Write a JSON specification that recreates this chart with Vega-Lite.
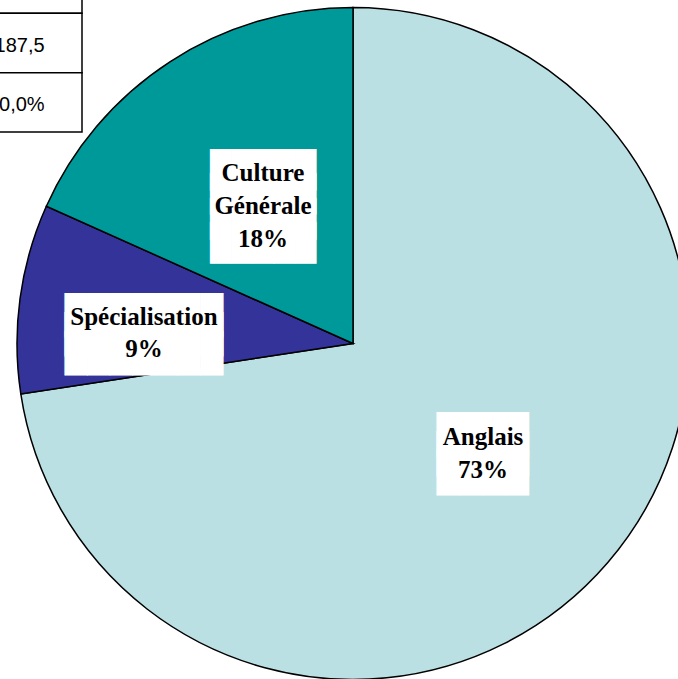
{
  "$schema": "https://vega.github.io/schema/vega-lite/v6.json",
  "autosize": "none",
  "width": 650,
  "height": 671,
  "padding": {"left": 28, "top": 8, "right": 0, "bottom": 0},
  "background": "white",
  "config": {"view": {"stroke": null}},
  "datasets": {
    "parts": [
      {"categorie": "Anglais", "valeur": 72.6, "ordre": 1},
      {"categorie": "Spécialisation", "valeur": 9.1, "ordre": 2},
      {"categorie": "Culture Générale", "valeur": 18.3, "ordre": 3}
    ],
    "tableau": [
      {"ligne": 0, "colonne": "A", "texte": ""},
      {"ligne": 1, "colonne": "A", "texte": "187,5"},
      {"ligne": 2, "colonne": "A", "texte": "0,0%"}
    ]
  },
  "layer": [
    {
      "data": {"name": "tableau"},
      "mark": {"type": "rect", "fill": "white", "stroke": "black", "strokeWidth": 1.5},
      "encoding": {
        "x": {"field": "colonne", "type": "nominal", "scale": {"type": "band", "range": [-66, 54], "paddingInner": 0, "paddingOuter": 0}, "axis": null},
        "y": {"field": "ligne", "type": "ordinal", "scale": {"type": "band", "range": [-54, 124], "paddingInner": 0, "paddingOuter": 0}, "axis": null}
      }
    },
    {
      "data": {"name": "tableau"},
      "mark": {"type": "text", "font": "Liberation Sans", "fontSize": 20, "fill": "black", "align": "right", "baseline": "middle", "dx": 22.6, "dy": 2.5},
      "encoding": {
        "x": {"field": "colonne", "type": "nominal", "scale": {"type": "band", "range": [-66, 54], "paddingInner": 0, "paddingOuter": 0}, "axis": null},
        "y": {"field": "ligne", "type": "ordinal", "scale": {"type": "band", "range": [-54, 124], "paddingInner": 0, "paddingOuter": 0}, "axis": null},
        "text": {"field": "texte", "type": "nominal"}
      }
    },
    {
      "data": {"name": "parts"},
      "mark": {"type": "arc", "outerRadius": 336, "stroke": "black", "strokeWidth": 1.5},
      "encoding": {
        "theta": {"field": "valeur", "type": "quantitative", "stack": true, "scale": {"domain": [0, 100]}},
        "order": {"field": "ordre", "type": "quantitative"},
        "color": {"field": "categorie", "type": "nominal", "scale": {"domain": ["Anglais", "Spécialisation", "Culture Générale"], "range": ["#BBE0E3", "#333399", "#009999"]}, "legend": null}
      }
    },
    {
      "data": {"name": "parts"},
      "transform": [
        {"stack": "valeur", "groupby": [], "sort": [{"field": "ordre", "order": "ascending"}], "as": ["debut", "fin"]},
        {"calculate": "(datum.debut + datum.fin) / 2", "as": "milieu"},
        {"filter": "datum.categorie === 'Anglais'"}
      ],
      "mark": {"type": "text", "font": "DejaVu Sans Mono", "fontSize": 38.2, "lineHeight": 19.3, "align": "center", "baseline": "middle", "fill": "white", "radius": 171.5, "dy": -18.6},
      "encoding": {
        "theta": {"field": "milieu", "type": "quantitative", "scale": {"domain": [0, 100]}},
        "text": {"value": ["████", "████", "████"]}
      }
    },
    {
      "data": {"name": "parts"},
      "transform": [
        {"stack": "valeur", "groupby": [], "sort": [{"field": "ordre", "order": "ascending"}], "as": ["debut", "fin"]},
        {"calculate": "(datum.debut + datum.fin) / 2", "as": "milieu"},
        {"filter": "datum.categorie === 'Spécialisation'"}
      ],
      "mark": {"type": "text", "font": "DejaVu Sans Mono", "fontSize": 37.6, "lineHeight": 19.15, "align": "center", "baseline": "middle", "fill": "white", "radius": 211, "dy": 2},
      "encoding": {
        "theta": {"field": "milieu", "type": "quantitative", "scale": {"domain": [0, 100]}},
        "text": {"value": ["███████", "███████", "███████"]}
      }
    },
    {
      "data": {"name": "parts"},
      "transform": [
        {"stack": "valeur", "groupby": [], "sort": [{"field": "ordre", "order": "ascending"}], "as": ["debut", "fin"]},
        {"calculate": "(datum.debut + datum.fin) / 2", "as": "milieu"},
        {"filter": "datum.categorie === 'Culture Générale'"}
      ],
      "mark": {"type": "text", "font": "DejaVu Sans Mono", "fontSize": 35.2, "lineHeight": 24.6, "align": "center", "baseline": "middle", "fill": "white", "radius": 165.5, "dy": -34},
      "encoding": {
        "theta": {"field": "milieu", "type": "quantitative", "scale": {"domain": [0, 100]}},
        "text": {"value": ["█████", "█████", "█████", "█████"]}
      }
    },
    {
      "data": {"name": "parts"},
      "transform": [
        {"joinaggregate": [{"op": "sum", "field": "valeur", "as": "total"}]},
        {"stack": "valeur", "groupby": [], "sort": [{"field": "ordre", "order": "ascending"}], "as": ["debut", "fin"]},
        {"calculate": "(datum.debut + datum.fin) / 2", "as": "milieu"},
        {"calculate": "split(datum.categorie + ' ' + format(datum.valeur / datum.total, '.0%'), ' ')", "as": "etiquette"},
        {"filter": "datum.categorie === 'Anglais'"}
      ],
      "mark": {"type": "text", "font": "Liberation Serif", "fontWeight": "bold", "fontSize": 25, "lineHeight": 33, "align": "center", "baseline": "middle", "fill": "black", "radius": 171.5, "dy": -18.6},
      "encoding": {
        "theta": {"field": "milieu", "type": "quantitative", "scale": {"domain": [0, 100]}},
        "text": {"field": "etiquette", "type": "nominal"}
      }
    },
    {
      "data": {"name": "parts"},
      "transform": [
        {"joinaggregate": [{"op": "sum", "field": "valeur", "as": "total"}]},
        {"stack": "valeur", "groupby": [], "sort": [{"field": "ordre", "order": "ascending"}], "as": ["debut", "fin"]},
        {"calculate": "(datum.debut + datum.fin) / 2", "as": "milieu"},
        {"calculate": "split(datum.categorie + ' ' + format(datum.valeur / datum.total, '.0%'), ' ')", "as": "etiquette"},
        {"filter": "datum.categorie === 'Spécialisation'"}
      ],
      "mark": {"type": "text", "font": "Liberation Serif", "fontWeight": "bold", "fontSize": 25, "lineHeight": 32, "align": "center", "baseline": "middle", "fill": "black", "radius": 211, "dy": 1.6},
      "encoding": {
        "theta": {"field": "milieu", "type": "quantitative", "scale": {"domain": [0, 100]}},
        "text": {"field": "etiquette", "type": "nominal"}
      }
    },
    {
      "data": {"name": "parts"},
      "transform": [
        {"joinaggregate": [{"op": "sum", "field": "valeur", "as": "total"}]},
        {"stack": "valeur", "groupby": [], "sort": [{"field": "ordre", "order": "ascending"}], "as": ["debut", "fin"]},
        {"calculate": "(datum.debut + datum.fin) / 2", "as": "milieu"},
        {"calculate": "split(datum.categorie + ' ' + format(datum.valeur / datum.total, '.0%'), ' ')", "as": "etiquette"},
        {"filter": "datum.categorie === 'Culture Générale'"}
      ],
      "mark": {"type": "text", "font": "Liberation Serif", "fontWeight": "bold", "fontSize": 25, "lineHeight": 33, "align": "center", "baseline": "middle", "fill": "black", "radius": 165.5, "dy": -32},
      "encoding": {
        "theta": {"field": "milieu", "type": "quantitative", "scale": {"domain": [0, 100]}},
        "text": {"field": "etiquette", "type": "nominal"}
      }
    }
  ]
}
